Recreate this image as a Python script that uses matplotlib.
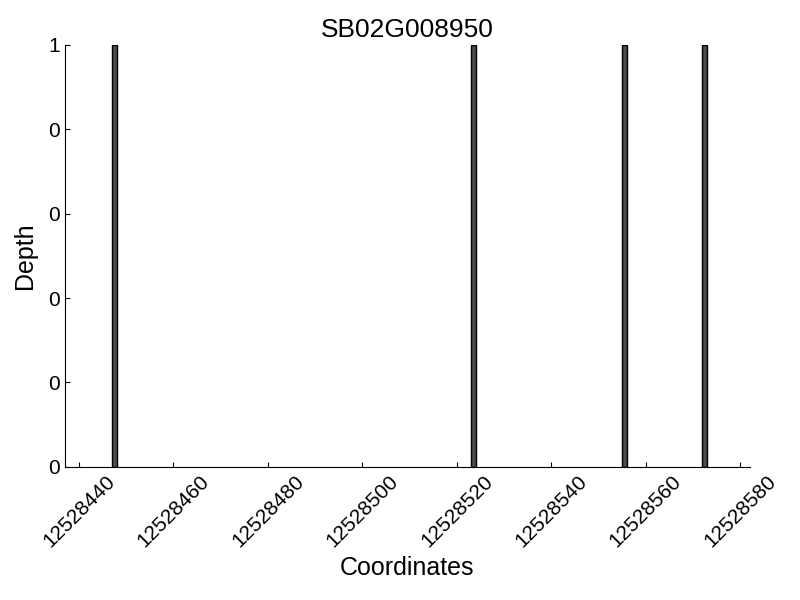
import matplotlib
matplotlib.use("Agg")
import matplotlib.pyplot as plt
from matplotlib.ticker import FormatStrFormatter

plt.rcParams["font.family"] = ["Liberation Sans", "DejaVu Sans"]

gene = "SB02G008950"
positions = [12528447, 12528523, 12528555, 12528572]
depth = [1, 1, 1, 1]
x_start = 12528437
x_end = 12528582

fig = plt.figure(figsize=(8, 6), dpi=100)
ax = fig.add_axes([0.081, 0.222, 0.856, 0.703])

ax.bar(positions, depth, width=1, align="edge",
       color="#4d4d4d", edgecolor="black", linewidth=1)

ax.set_xlim(x_start, x_end)
ax.set_ylim(0, 1)
ax.set_xticks(range(12528440, 12528581, 20))
ax.set_yticks([0, 0.2, 0.4, 0.6, 0.8, 1.0])
ax.yaxis.set_major_formatter(FormatStrFormatter("%d"))
ax.ticklabel_format(axis="x", useOffset=False, style="plain")

ax.spines["top"].set_visible(False)
ax.spines["right"].set_visible(False)
ax.tick_params(direction="in", top=False, right=False, labelsize=15)
plt.setp(ax.get_xticklabels(), rotation=45)

ax.set_title(gene, fontsize=19)
ax.set_xlabel("Coordinates", fontsize=18)
ax.set_ylabel("Depth", fontsize=18, labelpad=8)

fig.savefig("out.png", dpi=100)
